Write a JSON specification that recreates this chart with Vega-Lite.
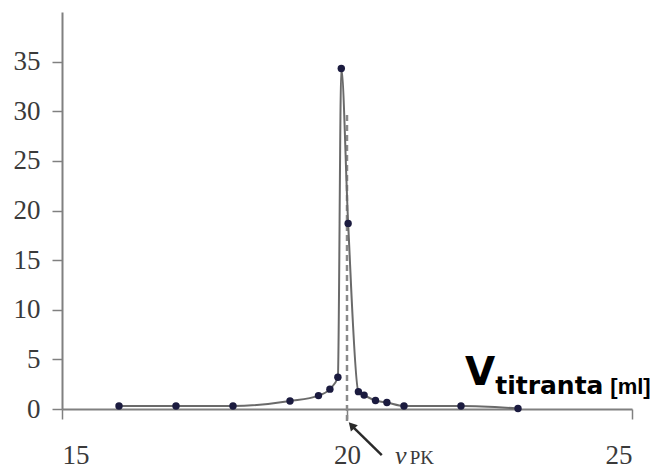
{
  "$schema": "https://vega.github.io/schema/vega-lite/v6.json",
  "width": 570,
  "height": 397,
  "autosize": {"type": "none"},
  "padding": {"left": 62, "top": 12, "right": 22, "bottom": 66},
  "background": "white",
  "config": {
    "view": {"stroke": null},
    "axis": {
      "grid": false,
      "domainColor": "#808080",
      "domainWidth": 2,
      "tickColor": "#808080",
      "tickWidth": 1.5,
      "tickSize": 10,
      "labelFont": "Liberation Serif",
      "labelFontSize": 27,
      "labelColor": "#3a3a3a",
      "title": null,
      "zindex": 1
    }
  },
  "datasets": {
    "pts": [
      {"v": 16, "d": 0.3},
      {"v": 17, "d": 0.3},
      {"v": 18, "d": 0.3},
      {"v": 19, "d": 0.8},
      {"v": 19.5, "d": 1.35},
      {"v": 19.7, "d": 2.0},
      {"v": 19.84, "d": 3.2},
      {"v": 19.9, "d": 34.3},
      {"v": 20.02, "d": 18.7},
      {"v": 20.2, "d": 1.75},
      {"v": 20.3, "d": 1.4},
      {"v": 20.5, "d": 0.85},
      {"v": 20.7, "d": 0.65},
      {"v": 21, "d": 0.3},
      {"v": 22, "d": 0.3},
      {"v": 23, "d": 0.05}
    ]
  },
  "layer": [
    {
      "data": {"values": [{"x": 20, "y": -1.2, "y2": 30}]},
      "mark": {"type": "rule", "color": "#8a8a8a", "strokeWidth": 2.5, "strokeDash": [6, 4]},
      "encoding": {
        "x": {"field": "x", "type": "quantitative", "scale": {"domain": [15, 25]}, "axis": {"values": [15, 20, 25], "format": "d", "labelPadding": 23}},
        "y": {"field": "y", "type": "quantitative", "scale": {"domain": [0, 36.1]}, "axis": {"values": [0, 5, 10, 15, 20, 25, 30, 35], "format": "d", "labelPadding": 12}},
        "y2": {"field": "y2"}
      }
    },
    {
      "data": {"name": "pts"},
      "mark": {"type": "line", "color": "#6a6a6a", "strokeWidth": 2, "interpolate": "monotone"},
      "encoding": {
        "x": {"field": "v", "type": "quantitative"},
        "y": {"field": "d", "type": "quantitative"}
      }
    },
    {
      "data": {"name": "pts"},
      "mark": {"type": "point", "filled": true, "color": "#1b1b3f", "opacity": 1, "size": 55},
      "encoding": {
        "x": {"field": "v", "type": "quantitative"},
        "y": {"field": "d", "type": "quantitative"}
      }
    },
    {
      "data": {"values": [{"x": 20.61, "y": -4.64, "x2": 20.09, "y2": -1.73}]},
      "mark": {"type": "rule", "color": "#2a2a2a", "strokeWidth": 2.5},
      "encoding": {
        "x": {"field": "x", "type": "quantitative"},
        "y": {"field": "y", "type": "quantitative"},
        "x2": {"field": "x2"},
        "y2": {"field": "y2"}
      }
    },
    {
      "data": {"values": [{"x": 20.08, "y": -1.65}]},
      "mark": {"type": "point", "shape": "triangle-up", "filled": true, "color": "#2a2a2a", "opacity": 1, "size": 90, "angle": 317},
      "encoding": {
        "x": {"field": "x", "type": "quantitative"},
        "y": {"field": "y", "type": "quantitative"}
      }
    },
    {
      "data": {"values": [{"x": 20.84, "y": -5.55, "t": "ν"}]},
      "mark": {"type": "text", "font": "Liberation Serif", "fontStyle": "italic", "fontSize": 26, "color": "#3a3a3a", "align": "left", "baseline": "alphabetic"},
      "encoding": {
        "x": {"field": "x", "type": "quantitative"},
        "y": {"field": "y", "type": "quantitative"},
        "text": {"field": "t"}
      }
    },
    {
      "data": {"values": [{"x": 21.1, "y": -5.55, "t": "PK"}]},
      "mark": {"type": "text", "font": "Liberation Serif", "fontSize": 19, "color": "#3a3a3a", "align": "left", "baseline": "alphabetic"},
      "encoding": {
        "x": {"field": "x", "type": "quantitative"},
        "y": {"field": "y", "type": "quantitative"},
        "text": {"field": "t"}
      }
    },
    {
      "data": {"values": [{"x": 22.07, "y": 2.4, "t": "V"}]},
      "mark": {"type": "text", "font": "DejaVu Sans", "fontWeight": "bold", "fontSize": 39, "color": "#000000", "align": "left", "baseline": "alphabetic"},
      "encoding": {
        "x": {"field": "x", "type": "quantitative"},
        "y": {"field": "y", "type": "quantitative"},
        "text": {"field": "t"}
      }
    },
    {
      "data": {"values": [{"x": 22.6, "y": 1.55, "t": "titranta"}]},
      "mark": {"type": "text", "font": "DejaVu Sans", "fontWeight": "bold", "fontSize": 25, "color": "#000000", "align": "left", "baseline": "alphabetic"},
      "encoding": {
        "x": {"field": "x", "type": "quantitative"},
        "y": {"field": "y", "type": "quantitative"},
        "text": {"field": "t"}
      }
    },
    {
      "data": {"values": [{"x": 24.62, "y": 1.55, "t": "[ml]"}]},
      "mark": {"type": "text", "font": "Liberation Sans", "fontWeight": "bold", "fontSize": 22, "color": "#000000", "align": "left", "baseline": "alphabetic"},
      "encoding": {
        "x": {"field": "x", "type": "quantitative"},
        "y": {"field": "y", "type": "quantitative"},
        "text": {"field": "t"}
      }
    }
  ]
}
